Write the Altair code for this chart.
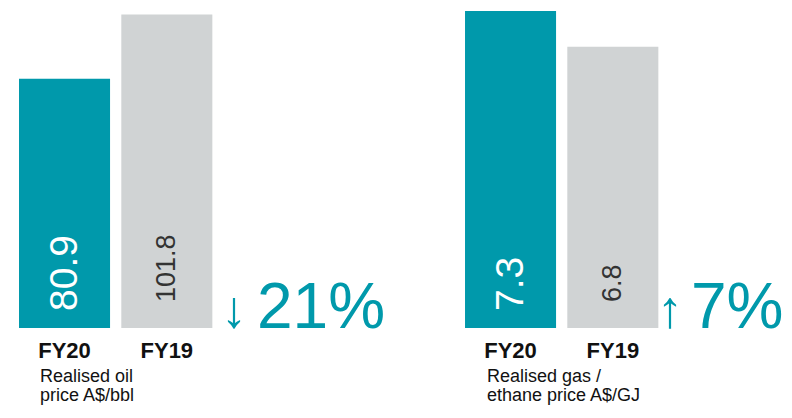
import altair as alt
import pandas as pd

# ---- data ----
years = ["FY20", "FY19"]
oil_values = [80.9, 101.8]
gas_values = [7.3, 6.8]
oil_change = "21%"
gas_change = "7%"
oil_arrow = "\u2193"
gas_arrow = "\u2191"
oil_caption = "Realised oil\nprice A$/bbl"
gas_caption = "Realised gas /\nethane price A$/GJ"
oil_domain = [0, 103.9]
gas_domain = [2.89, 7.34]

TEAL = "#0099AB"
GREY = "#D0D3D4"
FONT = "Liberation Sans"
BASE_Y = 320      # bar baseline inside the panel
PANEL_H = 397     # panel height, keeps the page inside the window


def panel(values, domain, change, arrow, caption, width, align_, po,
          arrow_x, pct_x, cap_x):
    df = pd.DataFrame({
        "year": years,
        "value": values,
        "base": [domain[0]] * len(values),
        "label": [f"{v}" for v in values],
    })
    x = alt.X(
        "year:N", sort=years, axis=None,
        scale=alt.Scale(paddingInner=0.11, paddingOuter=po, align=align_),
    )
    y = alt.Y("value:Q",
              scale=alt.Scale(domain=domain, zero=False, nice=False,
                              range=[BASE_Y, 0]),
              axis=None)
    base = alt.Chart(df)
    bars = base.mark_bar().encode(
        x=x, y=y, y2="base:Q",
        color=alt.Color("year:N", scale=alt.Scale(domain=years, range=[TEAL, GREY]),
                        legend=None),
    )
    lab_now = base.transform_filter(alt.datum.year == years[0]).mark_text(
        angle=270, align="left", baseline="middle", font=FONT, fontSize=39,
        color="white"
    ).encode(x=x, y=alt.value(BASE_Y - 17), text="label:N")
    lab_prev = base.transform_filter(alt.datum.year == years[1]).mark_text(
        angle=270, align="left", baseline="middle", font=FONT, fontSize=27,
        color="#333333"
    ).encode(x=x, y=alt.value(BASE_Y - 26), text="label:N")
    cat = base.mark_text(
        align="center", baseline="alphabetic", font=FONT, fontSize=22,
        fontWeight="bold", color="#111111"
    ).encode(x=x, y=alt.value(BASE_Y + 30), text="year:N")

    arrow_t = alt.Chart(pd.DataFrame({"t": [arrow]})).mark_text(
        align="center", baseline="alphabetic", font=FONT, fontSize=52, color=TEAL
    ).encode(x=alt.value(arrow_x), y=alt.value(BASE_Y - 1), text="t:N")
    pct_t = alt.Chart(pd.DataFrame({"t": [change]})).mark_text(
        align="left", baseline="alphabetic", font=FONT, fontSize=64, color=TEAL
    ).encode(x=alt.value(pct_x), y=alt.value(BASE_Y), text="t:N")
    cap_t = alt.Chart(pd.DataFrame({"t": [caption]})).mark_text(
        align="left", baseline="alphabetic", font=FONT, fontSize=18,
        color="#111111", lineBreak="\n", lineHeight=19
    ).encode(x=alt.value(cap_x), y=alt.value(BASE_Y + 54), text="t:N")

    return alt.layer(bars, lab_now, lab_prev, cat, arrow_t, pct_t, cap_t).properties(
        width=width, height=PANEL_H
    )


left = panel(oil_values, oil_domain, oil_change, oil_arrow, oil_caption,
             392, 0.0554, 0.971, 226, 249, 32)
right = panel(gas_values, gas_domain, gas_change, gas_arrow, gas_caption,
              384, 0.341, 0.932, 270, 291, 87)

chart = alt.hconcat(left, right, spacing=0).properties(padding=0).configure_view(
    stroke=None
)

chart.save("out.html", embed_options={"renderer": "svg", "actions": False})
